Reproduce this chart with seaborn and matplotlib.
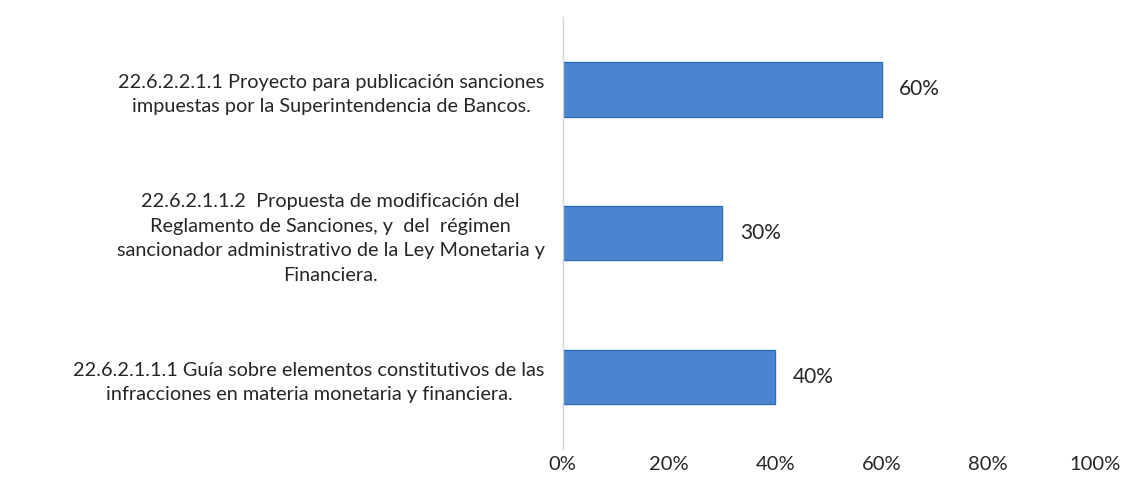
import matplotlib
matplotlib.use("Agg")
import matplotlib.pyplot as plt
import seaborn as sns
import pandas as pd

categories = [
    "22.6.2.2.1.1 Proyecto para publicación sanciones\nimpuestas por la Superintendencia de Bancos.",
    "22.6.2.1.1.2  Propuesta de modificación del\nReglamento de Sanciones, y  del  régimen\nsancionador administrativo de la Ley Monetaria y\nFinanciera.",
    "22.6.2.1.1.1 Guía sobre elementos constitutivos de las\ninfracciones en materia monetaria y financiera.",
]
values = [60, 30, 40]
xticks = [0, 20, 40, 60, 80, 100]
xtick_labels = ["0%", "20%", "40%", "60%", "80%", "100%"]

sns.set_theme(style="white")
plt.rcParams["font.family"] = ["Lato", "DejaVu Sans"]

df = pd.DataFrame({"cat": categories, "val": values})

fig = plt.figure(figsize=(11.23, 4.91), dpi=100)
ax = fig.add_axes([0.501, 0.0855, 0.4737, 0.8795])
sns.barplot(data=df, y="cat", x="val", orient="h", ax=ax, width=0.38,
            color="#4a86cf", edgecolor="#2f6db3", linewidth=1.0, saturation=1)

for i, v in enumerate(values):
    ax.text(v + 3.3, i, f"{v}%", va="center", ha="left", fontsize=15, color="#262626")

ax.set_xlim(0, 100)
ax.set_ylim(2.5, -0.5)
ax.set_xticks(xticks)
ax.set_xticklabels(xtick_labels, fontsize=14.5, color="#262626")
ax.tick_params(axis="x", length=0, pad=5)
ax.tick_params(axis="y", length=0, pad=13)
for lab in ax.get_yticklabels():
    lab.set_multialignment("center")
    lab.set_fontsize(14.3)
    lab.set_color("#262626")
    lab.set_linespacing(1.55)
ax.set_xlabel("")
ax.set_ylabel("")
for s in ["top", "right", "bottom"]:
    ax.spines[s].set_visible(False)
ax.spines["left"].set_color("#d4d4d4")
ax.spines["left"].set_linewidth(1.0)

fig.savefig("out.png", dpi=100, facecolor="white")
